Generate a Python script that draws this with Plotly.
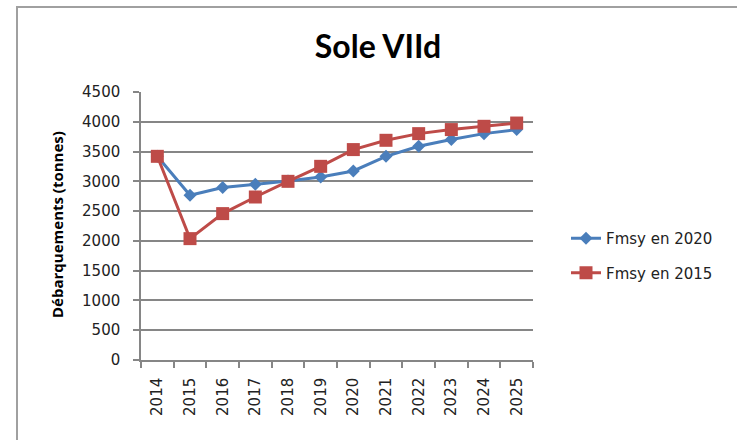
import plotly.graph_objects as go

years = ["2014", "2015", "2016", "2017", "2018", "2019", "2020", "2021", "2022", "2023", "2024", "2025"]
fmsy_2020 = [3420, 2766, 2895, 2950, 3006, 3073, 3174, 3420, 3588, 3701, 3801, 3869]
fmsy_2015 = [3420, 2038, 2458, 2737, 3000, 3252, 3533, 3689, 3801, 3869, 3924, 3979]
y_ticks = [0, 500, 1000, 1500, 2000, 2500, 3000, 3500, 4000, 4500]

W, H = 737, 440
L, R, T, B = 141, 204, 92, 80
pw, ph = W - L - R, H - T - B

def px_x(p):
    return (p - L) / pw

def px_y(p):
    return (H - B - p) / ph

fig = go.Figure()
fig.add_trace(go.Scatter(
    x=years, y=fmsy_2020, name="Fmsy en 2020", mode="lines+markers",
    line=dict(color="#4A7EBB", width=3),
    marker=dict(symbol="diamond", size=10, color="#4A7EBB"),
    legendgroup="a",
))
fig.add_trace(go.Scatter(
    x=years, y=fmsy_2015, name="Fmsy en 2015", mode="lines+markers",
    line=dict(color="#BE4B48", width=3),
    marker=dict(symbol="square", size=13, color="#BE4B48"),
    legendgroup="b",
))

tickfont = dict(family="DejaVu Sans", size=15, color="#222222")
fig.update_layout(
    width=W, height=H,
    margin=dict(l=L, r=R, t=T, b=B, autoexpand=False),
    paper_bgcolor="white", plot_bgcolor="white",
    title=dict(text="<b>Sole VIId</b>", x=378 / W, xanchor="center",
               y=1 - 47 / H, yanchor="middle",
               font=dict(family="Lato", size=32, color="#000000")),
    xaxis=dict(type="category", tickson="boundaries", tickangle=-90,
               showgrid=False, showline=True, linecolor="#868686", linewidth=1.5,
               ticks="outside", ticklen=6, tickcolor="#868686", tickwidth=1.5,
               tickfont=tickfont, ticklabelstandoff=10,
               range=[-0.5, 11.5]),
    yaxis=dict(range=[0, 4500], tickvals=y_ticks, showgrid=True,
               gridcolor="#868686", gridwidth=1.5,
               showline=True, linecolor="#868686", linewidth=1.5,
               ticks="outside", ticklen=6, tickcolor="#868686", tickwidth=1.5,
               tickfont=tickfont, ticklabelstandoff=10, zeroline=False),
    legend=dict(x=px_x(566), y=px_y(222), xanchor="left", yanchor="top",
                font=dict(family="DejaVu Sans", size=15, color="#222222"),
                tracegroupgap=12, bgcolor="rgba(0,0,0,0)", traceorder="grouped"),
    showlegend=True,
    annotations=[dict(text="<b>Débarquements (tonnes)</b>", textangle=-90,
                      x=px_x(57), y=px_y(225), xref="paper", yref="paper",
                      showarrow=False, xanchor="center", yanchor="middle",
                      font=dict(family="Open Sans", size=15, color="#000000"))],
    shapes=[dict(type="rect", xref="paper", yref="paper",
                 x0=px_x(17), x1=px_x(760), y0=px_y(470), y1=px_y(7),
                 line=dict(color="#A0A0A0", width=2), fillcolor="rgba(0,0,0,0)",
                 layer="below")],
)

fig.write_html("out.html", config={"displayModeBar": False},
               post_script="document.body.style.margin='0';document.body.style.overflow='hidden';")
